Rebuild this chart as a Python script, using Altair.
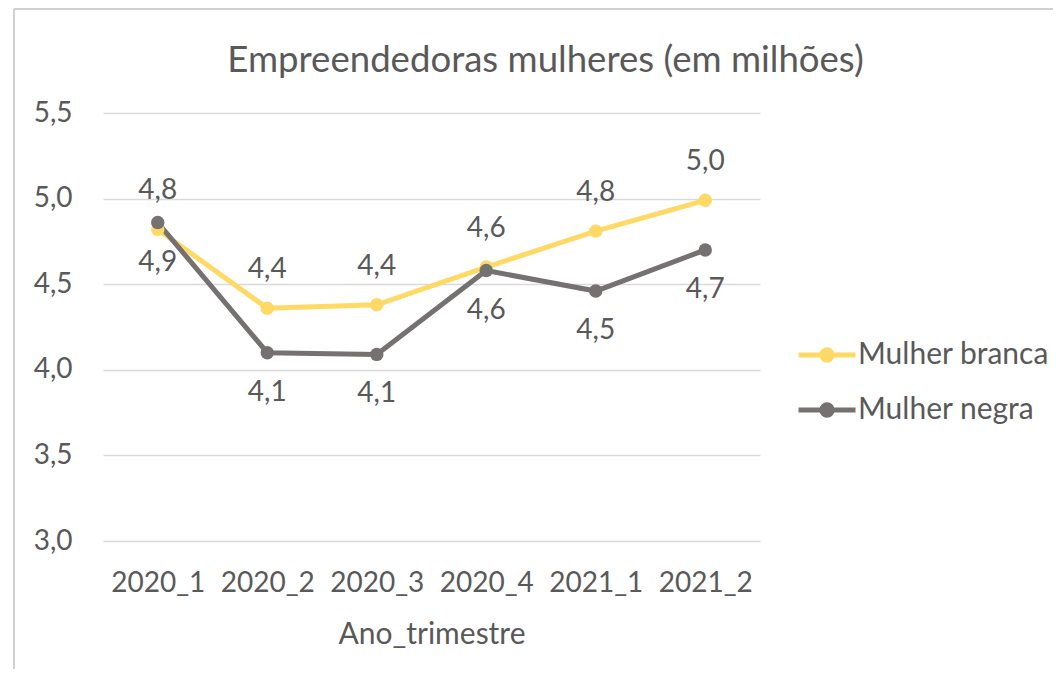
import altair as alt
import pandas as pd

quarters = ["2020_1", "2020_2", "2020_3", "2020_4", "2021_1", "2021_2"]
branca = [4.82, 4.36, 4.38, 4.60, 4.81, 4.99]
negra = [4.86, 4.10, 4.09, 4.58, 4.46, 4.70]
series_names = ["Mulher branca", "Mulher negra"]
colors = ["#FFD966", "#767171"]
y_ticks = [3.0, 3.5, 4.0, 4.5, 5.0, 5.5]

rows = []
for q, v in zip(quarters, branca):
    rows.append({"q": q, "v": v, "s": series_names[0]})
for q, v in zip(quarters, negra):
    rows.append({"q": q, "v": v, "s": series_names[1]})
df = pd.DataFrame(rows)

FONT = "Lato"
TXT = "#595959"
W, H = 657, 428

x_enc = alt.X("q:N", sort=quarters, scale=alt.Scale(type="point", padding=0.5),
              axis=alt.Axis(title="Ano_trimestre", labelAngle=0, labelFontSize=28,
                            labelColor=TXT, labelFont=FONT, labelPadding=28,
                            titleFontSize=30, titleFont=FONT, titleColor=TXT,
                            titleFontWeight="normal", titlePadding=22,
                            domain=False, ticks=False, grid=False))
y_enc = alt.Y("v:Q", scale=alt.Scale(domain=[3.0, 5.5], nice=False, zero=False),
              axis=alt.Axis(title=None, values=y_ticks,
                            labelExpr="replace(format(datum.value, '.1f'), '.', ',')",
                            labelFontSize=28, labelColor=TXT, labelFont=FONT,
                            labelPadding=31, domain=False, ticks=False,
                            grid=True, gridColor="#D9D9D9", gridWidth=1.5))

sym_path = ("M-1,0L1,0M-0.18,0A0.18,0.18,0,1,0,0.18,0"
            "A0.18,0.18,0,1,0,-0.18,0Z")

leg = alt.Legend(title=None, orient="none", legendX=693, legendY=211,
                 symbolType=sym_path, symbolSize=3249,
                 symbolStrokeWidth=5, labelFontSize=30,
                 labelFont=FONT, labelColor=TXT, labelOffset=0, labelLimit=400,
                 rowPadding=8)
sc = alt.Scale(domain=series_names, range=colors)

base = alt.Chart(df)

lines = base.mark_line(strokeWidth=5).encode(
    x=x_enc, y=y_enc, stroke=alt.Stroke("s:N", sort=series_names, scale=sc, legend=leg))
points = base.mark_point(size=180, filled=True, opacity=1).encode(
    x=x_enc, y=y_enc, fill=alt.Fill("s:N", sort=series_names, scale=sc, legend=leg))

lab = base.transform_calculate(
    lbl="replace(format(datum.v, '.1f'), '.', ',')"
)
lab_top = lab.transform_filter(alt.datum.s == series_names[0]).mark_text(
    font=FONT, fontSize=28, color=TXT, dy=-38, baseline="middle"
).encode(x=alt.X("q:N", sort=quarters), y="v:Q", text="lbl:N")
lab_bot = lab.transform_filter(alt.datum.s == series_names[1]).mark_text(
    font=FONT, fontSize=28, color=TXT, dy=40, baseline="middle"
).encode(x=alt.X("q:N", sort=quarters), y="v:Q", text="lbl:N")

border_left = alt.Chart(pd.DataFrame({"a": [0]})).mark_rule(color="#D0D0D0", strokeWidth=2).encode(
    x=alt.value(-89), y=alt.value(-104), y2=alt.value(700))
border_top = alt.Chart(pd.DataFrame({"a": [0]})).mark_rule(color="#D0D0D0", strokeWidth=2).encode(
    x=alt.value(-89), x2=alt.value(1100), y=alt.value(-104))

chart = alt.layer(border_left, border_top, lines, points, lab_top, lab_bot).properties(
    width=W, height=H,
    title=alt.TitleParams("Empreendedoras mulheres (em milhões)", font=FONT, fontSize=36.6,
                          fontWeight="normal", color=TXT, anchor="middle",
                          baseline="alphabetic", offset=-101, dx=114),
    padding={"left": 95, "top": 105, "right": 293, "bottom": 128},
    autosize=alt.AutoSizeParams(type="none"),
).configure(background="white").configure_view(stroke=None)

chart.save("out.html", embed_options={"renderer": "svg", "actions": False})
